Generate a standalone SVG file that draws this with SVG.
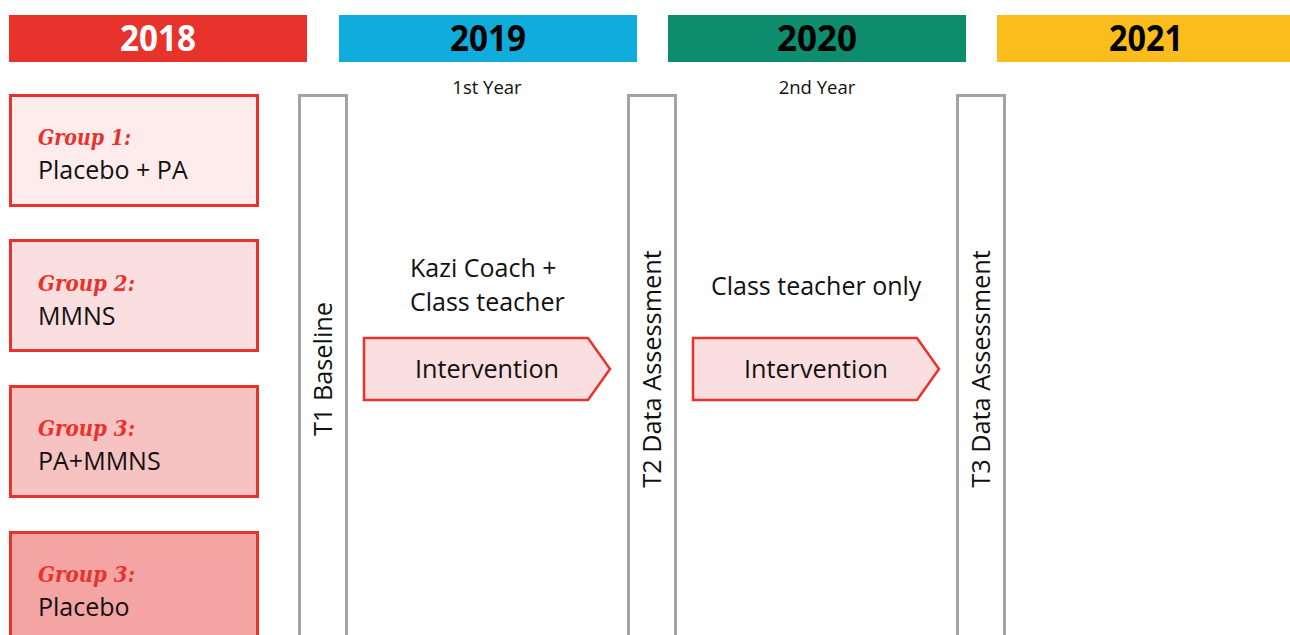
<svg xmlns="http://www.w3.org/2000/svg" width="1290" height="635" viewBox="0 0 1290 635">
<style>
.yr{font-family:"Open Sans","Liberation Sans",sans-serif;font-weight:700;font-size:35px;text-anchor:middle}
.sub{font-family:"Open Sans","Liberation Sans",sans-serif;font-size:18.5px;fill:#111;text-anchor:middle}
.txt{font-family:"Open Sans","Liberation Sans",sans-serif;font-size:25px;fill:#111}
.grp{font-family:"DejaVu Serif",serif;font-weight:700;font-style:italic;font-size:23px;fill:#e8332d}
.gbox{stroke:#e8332d;stroke-width:3}
.col{fill:#fff;stroke:#a3a3a3;stroke-width:3}
.vt{font-family:"Open Sans","Liberation Sans",sans-serif;font-size:25.3px;fill:#111;text-anchor:middle}
.arr{fill:#fbdfe0;stroke:#e8332d;stroke-width:2.5}
.it{font-family:"Open Sans","Liberation Sans",sans-serif;font-size:25.2px;fill:#111;text-anchor:middle}
</style>
<rect width="1290" height="635" fill="#fff"/>
<g id="year-2018"><rect x="9" y="15" width="298" height="47" fill="#e8332d"/><text class="yr" x="158" y="51" fill="#fff" textLength="76" lengthAdjust="spacingAndGlyphs">2018</text></g>
<g id="year-2019"><rect x="339" y="15" width="298" height="47" fill="#10acdc"/><text class="yr" x="488" y="51" fill="#000" textLength="76" lengthAdjust="spacingAndGlyphs">2019</text></g>
<g id="year-2020"><rect x="668" y="15" width="298" height="47" fill="#0e8c6e"/><text class="yr" x="817" y="51" fill="#000" textLength="80" lengthAdjust="spacingAndGlyphs">2020</text></g>
<g id="year-2021"><rect x="997" y="15" width="298" height="47" fill="#fbbd1c"/><text class="yr" x="1146" y="51" fill="#000" textLength="74" lengthAdjust="spacingAndGlyphs">2021</text></g>
<text class="sub" x="487" y="94">1st Year</text>
<text class="sub" x="817" y="94">2nd Year</text>
<g id="group1"><rect class="gbox" x="10.5" y="95.5" width="247" height="110" fill="#fdeceb"/><text class="grp" x="38" y="145" textLength="93" lengthAdjust="spacingAndGlyphs">Group 1:</text><text class="txt" x="38" y="179">Placebo + PA</text></g>
<g id="group2"><rect class="gbox" x="10.5" y="240.5" width="247" height="110" fill="#fbdfe0"/><text class="grp" x="38" y="291" textLength="97" lengthAdjust="spacingAndGlyphs">Group 2:</text><text class="txt" x="38" y="325">MMNS</text></g>
<g id="group3"><rect class="gbox" x="10.5" y="386.5" width="247" height="110" fill="#f7c2c2"/><text class="grp" x="38" y="436" textLength="97" lengthAdjust="spacingAndGlyphs">Group 3:</text><text class="txt" x="38" y="470">PA+MMNS</text></g>
<g id="group4"><rect class="gbox" x="10.5" y="532.5" width="247" height="110" fill="#f4a5a3"/><text class="grp" x="38" y="582" textLength="97" lengthAdjust="spacingAndGlyphs">Group 3:</text><text class="txt" x="38" y="616">Placebo</text></g>
<g id="t1"><rect class="col" x="299.5" y="95.5" width="47" height="560"/><text class="vt" transform="translate(332,369) rotate(-90)">T1 Baseline</text></g>
<g id="t2"><rect class="col" x="628.5" y="95.5" width="47" height="560"/><text class="vt" transform="translate(661,369) rotate(-90)">T2 Data Assessment</text></g>
<g id="t3"><rect class="col" x="957.5" y="95.5" width="47" height="560"/><text class="vt" transform="translate(990,369) rotate(-90)">T3 Data Assessment</text></g>
<g id="intervention1"><text class="txt" x="410" y="277">Kazi Coach +</text><text class="txt" x="410" y="311">Class teacher</text><polygon class="arr" points="364,338 588,338 610,369 588,400 364,400"/><text class="it" x="487" y="378">Intervention</text></g>
<g id="intervention2"><text class="txt" x="711" y="295">Class teacher only</text><polygon class="arr" points="693,338 917,338 939,369 917,400 693,400"/><text class="it" x="816" y="378">Intervention</text></g>
</svg>
